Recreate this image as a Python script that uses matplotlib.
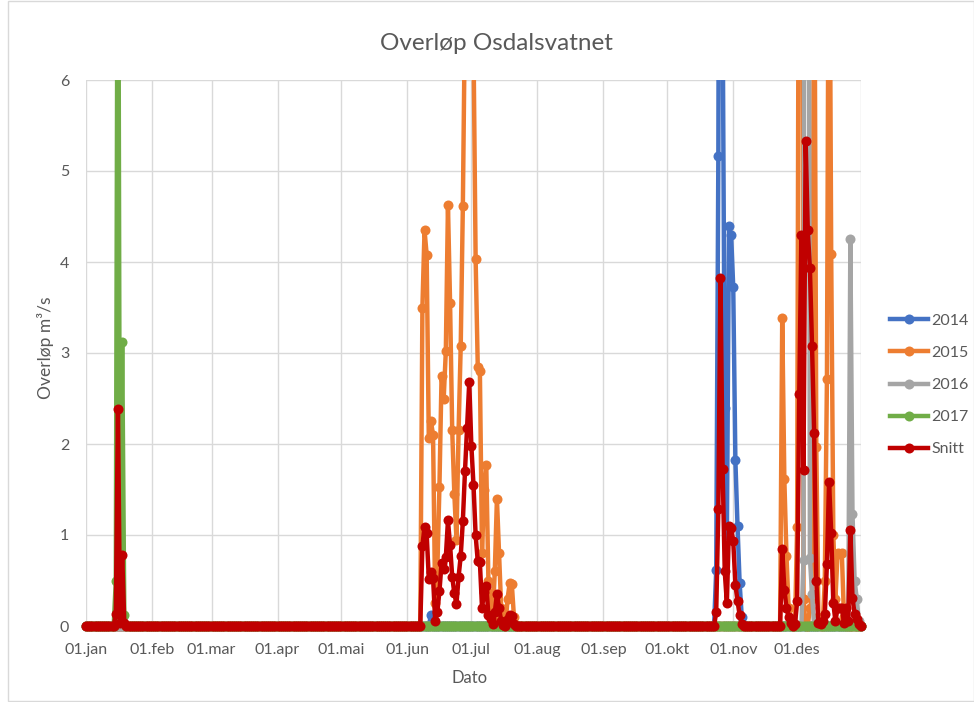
import numpy as np
import pandas as pd
import matplotlib
matplotlib.use("Agg")
import matplotlib.pyplot as plt
from matplotlib.patches import Rectangle

plt.rcParams['font.family'] = ['Lato', 'DejaVu Sans']

# one point per day, day 0 = 01.jan
dates = pd.date_range("2015-01-01", "2015-12-31", freq="D")

month_labels = ["01.jan", "01.feb", "01.mar", "01.apr", "01.mai", "01.jun",
                "01.jul", "01.aug", "01.sep", "01.okt", "01.nov", "01.des"]

# non-zero days of each series (day index, value in m3/s); all other days are 0
days_2014 = [162, 296, 297, 298, 299, 300, 301, 302, 303, 304, 305, 306, 307, 308]
vals_2014 = [0.12, 0.62, 5.17, 15.3, 6.9, 2.4, 1.0, 4.4, 4.3, 3.72, 1.82, 1.1, 0.47, 0.1]

days_2015 = [158, 159, 160, 161, 162, 163, 164, 165, 166, 167, 168, 169, 170, 171,
             172, 173, 174, 175, 176, 177, 178, 179, 180, 181, 182, 183, 184, 185,
             186, 187, 188, 189, 190, 191, 192, 193, 194, 195, 196, 198, 199, 200, 201,
             327, 328, 329, 330, 331, 334, 335, 336, 337, 340, 341, 342, 343, 344,
             347, 348, 349, 350, 351, 352, 353, 354, 355, 356]
vals_2015 = [3.5, 4.35, 4.08, 2.07, 2.25, 2.1, 0.25, 0.6, 1.53, 2.75, 2.5, 3.02, 4.63, 3.55,
             2.15, 1.45, 0.95, 2.15, 3.08, 4.62, 6.8, 8.7, 10.8, 7.9, 6.4, 4.03, 2.85, 2.8,
             0.8, 1.5, 1.77, 0.5, 0.3, 0.1, 0.6, 1.4, 0.8, 0.2, 0.05, 0.3, 0.47, 0.46, 0.1,
             3.39, 1.61, 0.77, 0.2, 0.05, 1.09, 10.2, 17.2, 0.3, 0.2, 0.3, 8.5, 1.97, 0.1,
             0.5, 2.71, 9.0, 4.09, 1.0, 0.3, 0.8, 0.79, 0.8, 0.1]

days_2016 = [337, 338, 339, 340, 341, 359, 360, 361, 362, 363]
vals_2016 = [0.73, 21.0, 16.0, 0.75, 0.35, 4.25, 1.23, 0.5, 0.3, 0.05]

days_2017 = [14, 15, 16, 17, 18]
vals_2017 = [0.5, 9.56, 0.05, 3.12, 0.12]

days_snitt = [14, 15, 16, 17, 18,
              158, 159, 160, 161, 162, 163, 164, 165, 166, 167, 168, 169, 170, 171,
              172, 173, 174, 175, 176, 177, 178, 179, 180, 181, 182, 183, 184, 185,
              186, 187, 188, 189, 190, 191, 192, 193, 194, 195, 196, 198, 199, 200, 201,
              296, 297, 298, 299, 300, 301, 302, 303, 304, 305, 306, 307, 308,
              327, 328, 329, 330, 331, 333, 334, 335, 336, 337, 338, 339, 340, 341, 342,
              343, 344, 345, 346, 347, 348, 349, 350, 351, 352, 353, 354, 355, 356, 357,
              358, 359, 360, 361, 362, 363]
vals_snitt = [0.13, 2.39, 0.03, 0.78, 0.03,
              0.88, 1.09, 1.02, 0.52, 0.59, 0.53, 0.06, 0.15, 0.38, 0.69, 0.63, 0.755, 1.16, 0.89,
              0.54, 0.36, 0.24, 0.54, 0.77, 1.155, 1.7, 2.18, 2.68, 1.98, 1.55, 1.0, 0.71, 0.7,
              0.2, 0.375, 0.44, 0.125, 0.075, 0.025, 0.15, 0.35, 0.2, 0.05, 0.01, 0.075, 0.12, 0.115, 0.025,
              0.155, 1.29, 3.82, 1.72, 0.6, 0.25, 1.1, 1.08, 0.93, 0.455, 0.275, 0.12, 0.025,
              0.85, 0.4, 0.2, 0.1, 0.03, 0.02, 0.27, 2.55, 4.3, 1.71, 5.33, 4.35, 3.93, 3.08, 2.12,
              0.5, 0.03, 0.02, 0.05, 0.13, 0.68, 1.58, 1.02, 0.25, 0.05, 0.2, 0.2, 0.2, 0.03, 0.2,
              0.05, 1.06, 0.31, 0.13, 0.08, 0.02]

series_names = ["2014", "2015", "2016", "2017", "Snitt"]
series_colors = ["#4472C4", "#ED7D31", "#A5A5A5", "#70AD47", "#C00000"]


def full_year(days, vals):
    arr = np.zeros(len(dates))
    arr[days] = vals
    return arr


series = [full_year(days_2014, vals_2014),
          full_year(days_2015, vals_2015),
          full_year(days_2016, vals_2016),
          full_year(days_2017, vals_2017),
          full_year(days_snitt, vals_snitt)]

text_col = "#595959"
grid_col = "#D9D9D9"

fig = plt.figure(figsize=(9.74, 7.02), dpi=100)
ax = fig.add_axes([86 / 974, 1 - 626 / 702, 775 / 974, 546 / 702])

# clip at the top like Excel, but let the zero-line markers overflow below/sides
clip_rect = Rectangle((-0.01, -0.03), 1.02, 1.03, transform=ax.transAxes,
                      fill=False, visible=False)
ax.add_patch(clip_rect)

for vals, name, col in zip(series, series_names, series_colors):
    line, = ax.plot(dates, vals, color=col, lw=3.2, marker="o", ms=7.2,
                    markeredgewidth=0, label=name, zorder=3)
    line.set_clip_path(clip_rect)

ax.set_xlim(dates[0], dates[-1])
ax.set_ylim(0, 6)
ax.set_yticks(range(0, 7))

month_starts = pd.date_range("2015-01-01", periods=12, freq="MS")
ax.set_xticks(month_starts)
ax.set_xticklabels(month_labels)
ax.grid(True, color=grid_col, lw=1.0, zorder=0)
ax.axvline(dates[-1], color=grid_col, lw=1.0, zorder=0)
for s in ax.spines.values():
    s.set_visible(False)
ax.axhline(0, color=grid_col, lw=1.0, zorder=1)
ax.tick_params(length=0, labelsize=11.5, colors=text_col)
ax.tick_params(axis="x", pad=12)
ax.tick_params(axis="y", pad=12)

fig.text(496 / 974, 1 - 43 / 702, "Overløp Osdalsvatnet", ha="center", va="center",
         fontsize=17.5, color=text_col)
fig.text(46 / 974, 1 - 348 / 702, "Overløp m³/s", ha="center", va="center",
         rotation=90, fontsize=12.5, color=text_col)
fig.text(470 / 974, 1 - 678 / 702, "Dato", ha="center", va="center",
         fontsize=12, color=text_col)

leg = fig.legend(loc="center left", bbox_to_anchor=(890 / 974, 1 - 385 / 702),
                 frameon=False, fontsize=11.5, handlelength=2.4, handletextpad=0.2,
                 labelspacing=1.12, borderpad=0, borderaxespad=0)
for t in leg.get_texts():
    t.set_color(text_col)

fig.patches.append(Rectangle((7.5 / 974, 1 / 702), 966 / 974, 700 / 702,
                             transform=fig.transFigure, fill=False,
                             edgecolor=grid_col, lw=1.0))

fig.savefig("out.png", dpi=100)
